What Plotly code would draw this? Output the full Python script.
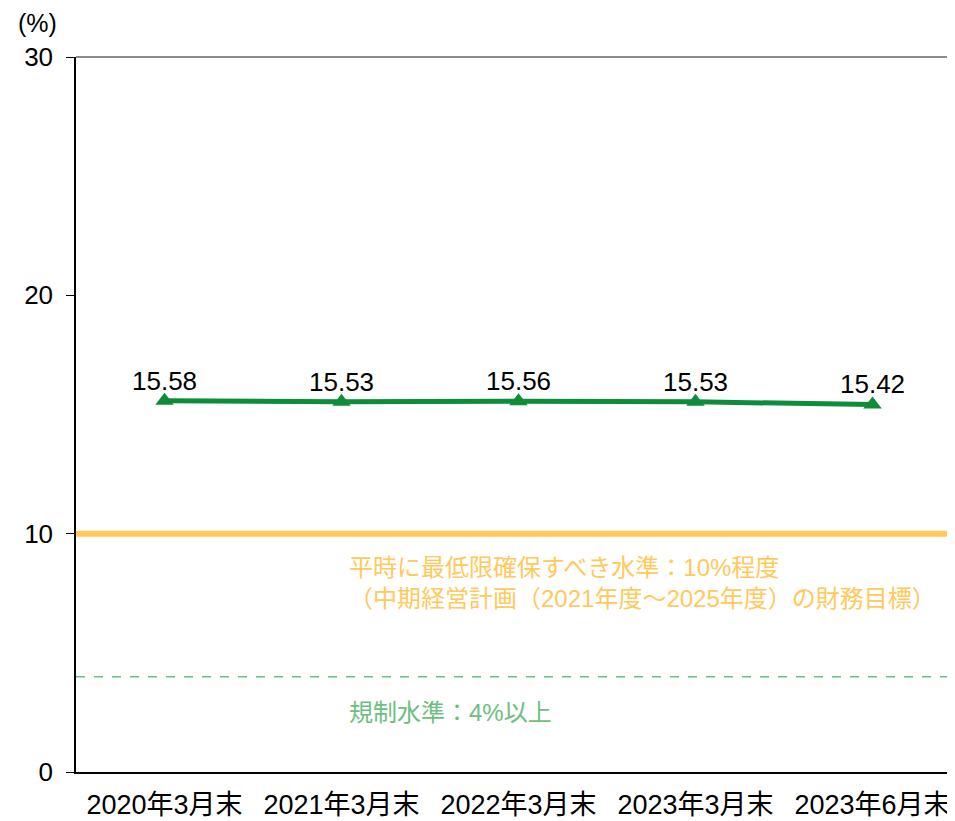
import plotly.graph_objects as go

categories = ['2020年3月末', '2021年3月末', '2022年3月末', '2023年3月末', '2023年6月末']
ratio = [15.58, 15.53, 15.56, 15.53, 15.42]
target_level = 10
regulatory_level = 4
y_ticks = [0, 10, 20, 30]

FONT = 'Liberation Sans, Arial, Noto Sans CJK JP'
GREEN = '#0E8C3A'
ORANGE = '#FFC95C'
LIGHT_GREEN = '#6DBE80'

fig = go.Figure()

# target line (10%)
fig.add_trace(go.Scatter(
    x=[-0.5, 4.5], y=[target_level, target_level],
    mode='lines', line=dict(color=ORANGE, width=6),
    hoverinfo='skip', showlegend=False,
))

# regulatory line (4%)
fig.add_trace(go.Scatter(
    x=[-0.5, 4.5], y=[regulatory_level, regulatory_level],
    mode='lines', line=dict(color=LIGHT_GREEN, width=1.5, dash='dash'),
    hoverinfo='skip', showlegend=False,
))

fig.add_trace(go.Scatter(
    x=list(range(len(categories))), y=ratio,
    mode='lines+markers',
    line=dict(color=GREEN, width=5),
    marker=dict(symbol='triangle-up', size=16, color=GREEN),
    showlegend=False,
))

# data labels
for i, v in enumerate(ratio):
    fig.add_annotation(
        x=i, y=v, xref='x', yref='y', yshift=20, showarrow=False,
        text=f'{v:.2f}', font=dict(family=FONT, size=26, color='black'),
    )

fig.add_annotation(
    x=1.03, y=7.95, xref='x', yref='y', xanchor='left', yanchor='middle',
    text='平時に最低限確保すべき水準：10%程度<br>（中期経営計画（2021年度～2025年度）の財務目標）',
    showarrow=False, align='left',
    font=dict(family=FONT, size=24, color=ORANGE),
)
fig.add_annotation(
    x=1.03, y=2.48, xref='x', yref='y', xanchor='left', yanchor='middle',
    text='規制水準：4%以上',
    showarrow=False, align='left',
    font=dict(family=FONT, size=24, color=LIGHT_GREEN),
)
fig.add_annotation(
    x=-0.044, y=1.048, xref='paper', yref='paper', xanchor='center', yanchor='middle',
    text='(%)', showarrow=False,
    font=dict(family=FONT, size=25, color='black'),
)

# gray top border
fig.add_shape(type='line', xref='paper', yref='paper', x0=0, x1=1, y0=1, y1=1,
              line=dict(color='#8C8C8C', width=2))

fig.update_xaxes(
    range=[-0.5, 4.466],
    tickvals=list(range(len(categories))), ticktext=categories,
    showgrid=False, zeroline=False,
    showline=True, linecolor='black', linewidth=1.5,
    ticks='', ticklabelstandoff=8,
    tickfont=dict(family=FONT, size=27, color='black'),
)
fig.update_yaxes(
    range=[0, 30], tickvals=y_ticks,
    showgrid=False, zeroline=False,
    showline=True, linecolor='black', linewidth=1.5,
    ticks='outside', ticklen=8, tickcolor='black',
    ticklabelstandoff=8,
    tickfont=dict(family=FONT, size=26, color='black'),
)
fig.update_layout(
    width=947, height=813,
    margin=dict(l=68, r=0, t=49, b=49),
    plot_bgcolor='white', paper_bgcolor='white',
    font=dict(family=FONT),
)

fig.write_html('out.html')
